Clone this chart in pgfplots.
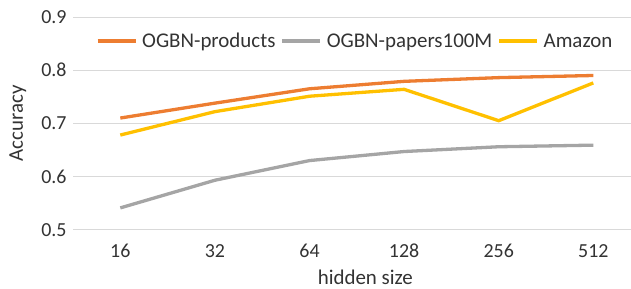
\documentclass[border=0pt]{standalone}
\usepackage{pgfplots}
\pgfplotsset{compat=1.18}
\usepackage{fontspec}
\setmainfont{Carlito}
\definecolor{cOrange}{HTML}{ED7D31}
\definecolor{cGray}{HTML}{A5A5A5}
\definecolor{cGold}{HTML}{FFC000}
\definecolor{cGrid}{HTML}{D9D9D9}
\definecolor{cText}{HTML}{333333}
\begin{document}
\begin{tikzpicture}
\path[use as bounding box] (0,0) rectangle (631bp,289bp);
\begin{axis}[
  at={(73bp,59.3bp)}, anchor=south west,
  scale only axis, width=567.6bp, height=212.7bp,
  xmin=-0.5, xmax=5.5, ymin=0.5, ymax=0.9,
  xtick={0,1,2,3,4,5},
  xticklabels={16,32,64,128,256,512},
  ytick={0.5,0.6,0.7,0.8,0.9},
  yticklabel style={/pgf/number format/fixed,/pgf/number format/precision=1,/pgf/number format/fixed zerofill},
  /pgf/number format/assume math mode=true,
  ymajorgrids, grid style={cGrid, line width=1bp},
  axis line style={draw=none},
  major tick style={draw=none},
  tick label style={font=\fontsize{20}{22}\selectfont, text=cText},
  xticklabel style={yshift=-11bp},
  yticklabel style={xshift=-3bp},
  xlabel={hidden size},
  ylabel={Accuracy},
  every axis x label/.style={at={(axis description cs:0.515,-0.222)}, anchor=center, font=\fontsize{21}{23}\selectfont, text=cText},
  every axis y label/.style={at={(axis description cs:-0.097,0.5)}, rotate=90, anchor=center, font=\fontsize{21}{23}\selectfont, text=cText},
  legend columns=3,
  legend style={at={(axis description cs:0.497,0.887)}, anchor=center, draw=none, fill=none,
    font=\fontsize{21}{23}\selectfont, text=cText, column sep=3bp,
    /tikz/every even column/.append style={column sep=3bp}},
  legend image code/.code={\draw[#1, line width=3.3bp] (0bp,0bp) -- (38bp,0bp);},
  clip=false,
]
\addplot[cOrange, line width=3.3bp] coordinates {(0,0.710) (1,0.738) (2,0.765) (3,0.779) (4,0.786) (5,0.790)};
\addlegendentry{OGBN-products}
\addplot[cGray, line width=3.3bp] coordinates {(0,0.541) (1,0.593) (2,0.630) (3,0.647) (4,0.656) (5,0.659)};
\addlegendentry{OGBN-papers100M}
\addplot[cGold, line width=3.3bp] coordinates {(0,0.678) (1,0.722) (2,0.751) (3,0.764) (4,0.705) (5,0.776)};
\addlegendentry{Amazon}
\end{axis}
\end{tikzpicture}
\end{document}
